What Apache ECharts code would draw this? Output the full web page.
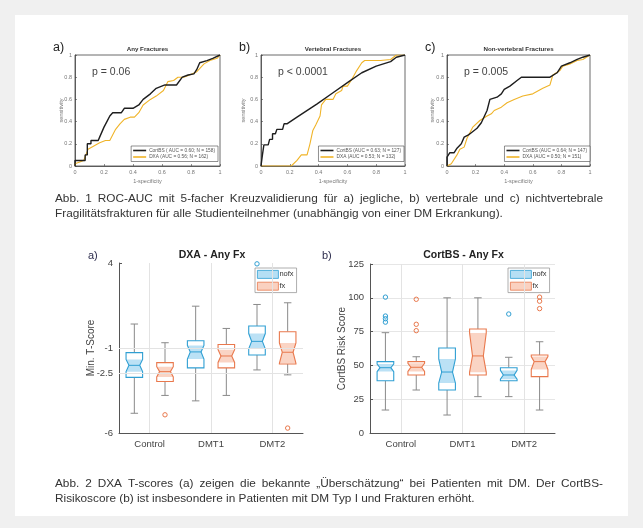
<!DOCTYPE html>
<html><head><meta charset="utf-8">
<script src="https://cdn.jsdelivr.net/npm/echarts@6/dist/echarts.min.js"></script>
<style>html,body{margin:0;padding:0;background:#f0f0f0}#c{width:643px;height:528px}</style>
</head><body><div id="c"></div>
<script>
// ---------- ROC data ----------
const rocTitles = ['Any Fractures', 'Vertebral Fractures', 'Non-vertebral Fractures'];
const rocPanels = ['a)', 'b)', 'c)'];
const rocP = ['p = 0.06', 'p < 0.0001', 'p = 0.005'];
const rocCortName = ['CortBS ( AUC = 0.60; N = 158)', 'CortBS (AUC = 0.63; N = 127)', 'CortBS (AUC = 0.64; N = 147)'];
const rocDxaName = ['DXA (AUC = 0.56; N = 162)', 'DXA (AUC = 0.53; N = 132)', 'DXA (AUC = 0.50; N = 151)'];

const rocA_cortbs = [[0,0],[0,0.05],[0.07,0.05],[0.07,0.1],[0.085,0.1],[0.085,0.2],[0.11,0.2],[0.11,0.23],[0.16,0.23],[0.17,0.26],[0.2,0.35],[0.22,0.4],[0.24,0.45],[0.26,0.48],[0.32,0.48],[0.34,0.52],[0.4,0.52],[0.44,0.55],[0.47,0.6],[0.52,0.65],[0.56,0.7],[0.62,0.73],[0.7,0.73],[0.74,0.8],[0.78,0.82],[0.82,0.83],[0.84,0.87],[0.86,0.93],[0.91,0.95],[0.95,0.97],[1,1]];
const rocA_dxa = [[0,0],[0,0.02],[0.06,0.05],[0.09,0.15],[0.13,0.18],[0.17,0.21],[0.21,0.23],[0.24,0.23],[0.28,0.33],[0.31,0.38],[0.34,0.42],[0.38,0.44],[0.41,0.44],[0.44,0.48],[0.47,0.55],[0.52,0.6],[0.56,0.63],[0.61,0.68],[0.64,0.76],[0.68,0.77],[0.71,0.8],[0.75,0.8],[0.79,0.82],[0.84,0.85],[0.89,0.92],[0.93,0.95],[0.98,0.97],[1,1]];
const rocB_cortbs = [[0,0],[0.01,0],[0.01,0.1],[0.02,0.1],[0.02,0.19],[0.05,0.19],[0.06,0.24],[0.08,0.24],[0.08,0.29],[0.1,0.29],[0.11,0.33],[0.15,0.33],[0.16,0.38],[0.18,0.38],[0.25,0.44],[0.39,0.56],[0.5,0.66],[0.61,0.76],[0.7,0.84],[0.8,0.9],[0.9,0.94],[0.94,0.98],[1,1]];
const rocB_dxa = [[0,0],[0.21,0],[0.25,0.05],[0.28,0.1],[0.32,0.1],[0.34,0.2],[0.36,0.32],[0.38,0.37],[0.41,0.45],[0.42,0.55],[0.45,0.6],[0.5,0.6],[0.52,0.65],[0.56,0.68],[0.57,0.72],[0.6,0.72],[0.63,0.78],[0.66,0.85],[0.7,0.93],[0.72,0.95],[0.83,0.95],[0.9,0.96],[0.94,1],[1,1]];
const rocC_cortbs = [[0,0],[0,0.08],[0.02,0.12],[0.05,0.12],[0.07,0.16],[0.1,0.2],[0.12,0.26],[0.15,0.28],[0.17,0.3],[0.21,0.34],[0.24,0.39],[0.28,0.5],[0.3,0.6],[0.35,0.62],[0.38,0.65],[0.4,0.69],[0.44,0.72],[0.49,0.77],[0.52,0.8],[0.72,0.8],[0.77,0.84],[0.8,0.9],[0.86,0.93],[0.91,0.96],[0.95,0.98],[1,1]];
const rocC_dxa = [[0,0],[0.03,0.02],[0.07,0.1],[0.09,0.15],[0.12,0.17],[0.14,0.25],[0.18,0.35],[0.23,0.41],[0.28,0.45],[0.31,0.47],[0.33,0.5],[0.38,0.53],[0.42,0.57],[0.47,0.6],[0.53,0.63],[0.6,0.65],[0.67,0.7],[0.72,0.73],[0.74,0.82],[0.79,0.86],[0.81,0.9],[0.86,0.92],[0.91,0.95],[0.95,0.96],[1,1]];

// ---------- Box plot data ----------
const categories = ['Control', 'DMT1', 'DMT2'];
// each row: [min, q1, median, q3, max, notchLow, notchHigh]
const dxaNofx = [[-4.84,-2.73,-2.02,-1.27,0.41,-2.39,-1.67],[-4.11,-2.17,-1.23,-0.57,1.46,-1.65,-0.85],[-2.29,-1.41,-0.61,0.29,1.56,-1.05,-0.15]];
const dxaFx   = [[-3.79,-2.97,-2.39,-1.86,-0.69,-2.7,-2.1],[-3.79,-2.17,-1.47,-0.79,0.15,-1.85,-1.1],[-2.58,-1.94,-1.25,-0.04,1.66,-1.9,-0.7]];
const dxaNofxOut = [[2, 3.95]];
const dxaFxOut = [[0, -4.93], [2, -5.71]];
const dxaTicks = [-6, -2.5, -1, 4];
const dxaGridY = [-1, -2.5];

const cbsNofx = [[17,38.7,48.3,52.8,74.2,45.4,51],[13.3,31.8,45.1,62.9,100,37,54.7],[26.9,38.7,42.9,48.3,56,39.8,46.3]];
const cbsFx   = [[31.8,42.9,48.6,52.8,56.4,45.5,51.5],[26.9,42.9,57,76.9,100,45,74],[17,41.7,52.8,57.7,67.5,47,56.5]];
const cbsNofxOut = [[0,100.5],[0,86.5],[0,84.5],[0,82],[2,88]];
const cbsFxOut = [[0,98.9],[0,80.4],[0,75.7],[2,100.5],[2,97.5],[2,92]];

// ---------- captions ----------
const caption1 = ['Abb. 1 ROC-AUC mit 5-facher Kreuzvalidierung für a) jegliche, b) vertebrale und c) nichtvertebrale',
  'Fragilitätsfrakturen für alle Studienteilnehmer (unabhängig von einer DM Erkrankung).'];
const caption2 = ['Abb. 2 DXA T-scores (a) zeigen die bekannte „Überschätzung“ bei Patienten mit DM. Der CortBS-',
  'Risikoscore (b) ist insbesondere in Patienten mit DM Typ I und Frakturen erhöht.'];

// ---------- styles / layout ----------
const FF = '"Liberation Sans", Arial, sans-serif';
const BLUE = '#2f9fd3', BLUE_F = 'rgba(120,195,235,0.5)';
const ORNG = '#e9784c', ORNG_F = 'rgba(245,160,125,0.45)';
const WHISK = '#8a8a8a';
const rocGrids = [
  {left: 75, top: 55, width: 145, height: 111},
  {left: 261, top: 55, width: 144, height: 111},
  {left: 447, top: 55, width: 143, height: 111}
];
const boxGrids = [
  {left: 119, top: 263, width: 184, height: 170},
  {left: 370, top: 264, width: 185, height: 169}
];

const grids = [], xAxes = [], yAxes = [], series = [], legends = [], graphics = [];

graphics.push({type: 'rect', z: -100, shape: {x: 15, y: 15, width: 613, height: 501}, style: {fill: '#ffffff'}});

const rocCort = [rocA_cortbs, rocB_cortbs, rocC_cortbs];
const rocDxa = [rocA_dxa, rocB_dxa, rocC_dxa];
const rocLegendRight = [425, 239, 53];
const rocNameGap = [11, 15, 12];

rocGrids.forEach((g, i) => {
  grids.push(Object.assign({show: true, borderColor: '#444', borderWidth: 0.8, backgroundColor: '#fff'}, g));
  const ax = {
    type: 'value', gridIndex: i, min: 0, max: 1, interval: 0.2,
    axisLine: {show: true, onZero: false, lineStyle: {color: '#444', width: 0.8}},
    axisTick: {show: true, inside: true, length: 2, lineStyle: {color: '#444', width: 0.6}},
    axisLabel: {fontSize: 5.5, color: '#777', fontFamily: FF, margin: 3},
    splitLine: {show: false},
    nameLocation: 'middle', nameMoveOverlap: false,
    nameTextStyle: {fontSize: 5.5, color: '#777', fontFamily: FF}
  };
  xAxes.push(Object.assign({}, ax, {name: '1-specificity', nameGap: 12}));
  yAxes.push(Object.assign({}, ax, {name: 'sensitivity', nameGap: rocNameGap[i]}));
  series.push({
    type: 'line', name: rocCortName[i], xAxisIndex: i, yAxisIndex: i, data: rocCort[i],
    showSymbol: false, symbol: 'none', z: 4, color: '#1e1e1e',
    lineStyle: {color: '#1e1e1e', width: 1.4}
  });
  series.push({
    type: 'line', name: rocDxaName[i], xAxisIndex: i, yAxisIndex: i, data: rocDxa[i],
    showSymbol: false, symbol: 'none', z: 3, color: '#f0b429',
    lineStyle: {color: '#f0b429', width: 1.1}
  });
  legends.push({
    data: [rocCortName[i], rocDxaName[i]], right: rocLegendRight[i], top: 146, orient: 'vertical',
    icon: 'rect', itemWidth: 13, itemHeight: 1.6, itemGap: 1.5, padding: [2, 3, 2, 2],
    borderColor: '#444', borderWidth: 0.6, backgroundColor: '#fff',
    textStyle: {fontSize: 4.8, color: '#555', fontFamily: FF, padding: [0, 0, 0, -2]},
    selectedMode: false
  });
  const cx = g.left + g.width / 2;
  graphics.push({type: 'text', x: cx, y: 49, style: {text: rocTitles[i], fontSize: 6.2, fontWeight: 'bold', fontFamily: FF, fill: '#333', align: 'center', verticalAlign: 'middle'}});
  graphics.push({type: 'text', x: g.left - 22, y: 48, style: {text: rocPanels[i], fontSize: 12.5, fontFamily: FF, fill: '#222', align: 'left', verticalAlign: 'middle'}});
  graphics.push({type: 'text', x: g.left + 17, y: 72, style: {text: rocP[i], fontSize: 10.5, fontFamily: FF, fill: '#444', align: 'left', verticalAlign: 'middle'}});
});

function boxRender(side, stroke, fill) {
  return function (params, api) {
    const i = api.value(0);
    const band = api.size([1, 0])[0];
    const cx = api.coord([i, 0])[0] + side * band * 0.25;
    const hw = band * 0.135;
    const Y = k => api.coord([i, api.value(k)])[1];
    const yMin = Y(1), yQ1 = Y(2), yMed = Y(3), yQ3 = Y(4), yMax = Y(5), yNl = Y(6), yNh = Y(7);
    const ind = hw * 0.35, L = cx - hw, R = cx + hw;
    const wl = {stroke: WHISK, lineWidth: 1};
    const outline = [[L, yQ3], [R, yQ3], [R, yNh], [R - ind, yMed], [R, yNl], [R, yQ1], [L, yQ1], [L, yNl], [L + ind, yMed], [L, yNh]];
    return {type: 'group', children: [
      {type: 'line', shape: {x1: cx, y1: yQ3, x2: cx, y2: yMax}, style: wl},
      {type: 'line', shape: {x1: cx, y1: yQ1, x2: cx, y2: yMin}, style: wl},
      {type: 'line', shape: {x1: cx - hw * 0.45, y1: yMax, x2: cx + hw * 0.45, y2: yMax}, style: wl},
      {type: 'line', shape: {x1: cx - hw * 0.45, y1: yMin, x2: cx + hw * 0.45, y2: yMin}, style: wl},
      {type: 'polygon', shape: {points: outline}, style: {fill: '#ffffff', stroke: null}},
      {type: 'polygon', shape: {points: [[L, yNh], [R, yNh], [R - ind, yMed], [R, yNl], [L, yNl], [L + ind, yMed]]},
        style: {fill: fill, stroke: null}},
      {type: 'polygon', shape: {points: outline}, style: {fill: null, stroke: stroke, lineWidth: 1.1}},
      {type: 'line', shape: {x1: L + ind, y1: yMed, x2: R - ind, y2: yMed}, style: {stroke: stroke, lineWidth: 1}}
    ]};
  };
}
function outRender(side, stroke) {
  return function (params, api) {
    const i = api.value(0);
    const band = api.size([1, 0])[0];
    const p = api.coord([i, api.value(1)]);
    return {type: 'circle', shape: {cx: p[0] + side * band * 0.25, cy: p[1], r: 2.2},
      style: {fill: null, stroke: stroke, lineWidth: 1}};
  };
}

const boxSets = [
  {nofx: dxaNofx, fx: dxaFx, nofxOut: dxaNofxOut, fxOut: dxaFxOut, title: 'DXA - Any Fx', yName: 'Min. T-Score', panel: 'a)'},
  {nofx: cbsNofx, fx: cbsFx, nofxOut: cbsNofxOut, fxOut: cbsFxOut, title: 'CortBS - Any Fx', yName: 'CortBS Risk Score', panel: 'b)'}
];
const boxLegendLeft = [255, 508];

boxGrids.forEach((g, j) => {
  const gi = 3 + j;
  const bs = boxSets[j];
  grids.push(Object.assign({show: false}, g));
  xAxes.push({
    type: 'category', gridIndex: gi, data: categories, boundaryGap: true,
    axisLine: {show: true, onZero: false, lineStyle: {color: '#555', width: 1}},
    axisTick: {show: true, alignWithLabel: true, inside: true, length: 3, lineStyle: {color: '#555'}},
    axisLabel: {fontSize: 9.5, color: '#444', fontFamily: FF, margin: 6},
    splitLine: {show: false}
  });
  const yAx = {
    type: 'value', gridIndex: gi,
    axisLine: {show: true, onZero: false, lineStyle: {color: '#555', width: 1}},
    axisTick: {show: true, inside: true, length: 3, lineStyle: {color: '#555'}},
    axisLabel: {fontSize: 9.5, color: '#444', fontFamily: FF, margin: 6},
    name: bs.yName, nameLocation: 'middle', nameMoveOverlap: false,
    nameTextStyle: {fontSize: 10, color: '#444', fontFamily: FF}
  };
  if (j === 0) {
    Object.assign(yAx, {min: -6, max: 4, nameGap: 23, splitLine: {show: false},
      axisLabel: Object.assign({}, yAx.axisLabel, {customValues: dxaTicks}),
      axisTick: Object.assign({}, yAx.axisTick, {customValues: dxaTicks})});
  } else {
    Object.assign(yAx, {min: 0, max: 125, interval: 25, nameGap: 23,
      splitLine: {show: true, lineStyle: {color: '#e6e6e6', width: 1}}});
  }
  yAxes.push(yAx);

  const gridLines = categories.map(c => ({xAxis: c}));
  if (j === 0) dxaGridY.forEach(v => gridLines.push({yAxis: v}));
  series.push({
    type: 'line', xAxisIndex: gi, yAxisIndex: gi, data: [], z: 1, silent: true,
    markLine: {silent: true, symbol: 'none', label: {show: false}, animation: false,
      lineStyle: {color: '#e3e3e3', width: 1, type: 'solid'}, data: gridLines}
  });
  [[bs.nofx, bs.nofxOut, -1, 'nofx', BLUE, BLUE_F], [bs.fx, bs.fxOut, 1, 'fx', ORNG, ORNG_F]].forEach(([d, o, side, nm, st, fl]) => {
    series.push({
      type: 'custom', name: nm, xAxisIndex: gi, yAxisIndex: gi, z: 3,
      itemStyle: {color: fl, borderColor: st},
      data: d.map((r, k) => [k].concat(r)),
      encode: {x: 0, y: [1, 2, 3, 4, 5]},
      renderItem: boxRender(side, st, fl)
    });
    series.push({
      type: 'custom', name: nm, xAxisIndex: gi, yAxisIndex: gi, z: 3,
      itemStyle: {color: fl, borderColor: st},
      data: o, encode: {x: 0, y: 1},
      renderItem: outRender(side, st)
    });
  });
  legends.push({
    data: [
      {name: 'nofx', icon: 'rect', itemStyle: {color: 'rgba(150,210,240,0.7)', borderColor: BLUE, borderWidth: 0.8}},
      {name: 'fx', icon: 'rect', itemStyle: {color: 'rgba(248,190,165,0.7)', borderColor: ORNG, borderWidth: 0.8}}
    ],
    left: boxLegendLeft[j], top: 268, orient: 'vertical', itemWidth: 21, itemHeight: 8, itemGap: 3,
    padding: [2, 3, 2, 2], borderColor: '#999', borderWidth: 0.8, backgroundColor: '#fff',
    textStyle: {fontSize: 7.5, color: '#333', fontFamily: FF, padding: [0, 0, 0, -4]},
    selectedMode: false
  });
  graphics.push({type: 'text', x: g.left + g.width / 2 + 1, y: 255, style: {text: bs.title, fontSize: 10.5, fontWeight: 'bold', fontFamily: FF, fill: '#222', align: 'center', verticalAlign: 'middle'}});
  graphics.push({type: 'text', x: j === 0 ? 88 : 322, y: 256, style: {text: bs.panel, fontSize: 11, fontFamily: FF, fill: '#2d2d4d', align: 'left', verticalAlign: 'middle'}});
});

// captions: first line justified between x=55 and x=603, second line left-aligned
const CAP_SIZE = 11.8;
const mctx = document.createElement('canvas').getContext('2d');
mctx.font = CAP_SIZE + 'px ' + FF;
[[caption1, 199], [caption2, 484]].forEach(([lines, y0]) => {
  lines.forEach((t, k) => {
    const y = y0 + k * 14.5;
    if (k === 0) {
      const words = t.split(' ');
      const widths = words.map(w => mctx.measureText(w).width);
      const total = widths.reduce((a, b) => a + b, 0);
      const gap = (548 - total) / (words.length - 1);
      let x = 55;
      words.forEach((w, n) => {
        graphics.push({type: 'text', x: x, y: y, style: {text: w, fontSize: CAP_SIZE, fontFamily: FF, fill: '#333', align: 'left', verticalAlign: 'middle'}});
        x += widths[n] + gap;
      });
    } else {
      graphics.push({type: 'text', x: 55, y: y, style: {text: t, fontSize: CAP_SIZE, fontFamily: FF, fill: '#333', align: 'left', verticalAlign: 'middle'}});
    }
  });
});

const chart = echarts.init(document.getElementById('c'), null, {renderer: 'canvas'});
chart.setOption({
  backgroundColor: '#f0f0f0',
  animation: false,
  grid: grids, xAxis: xAxes, yAxis: yAxes, series: series, legend: legends,
  graphic: {elements: graphics}
});
</script></body></html>
